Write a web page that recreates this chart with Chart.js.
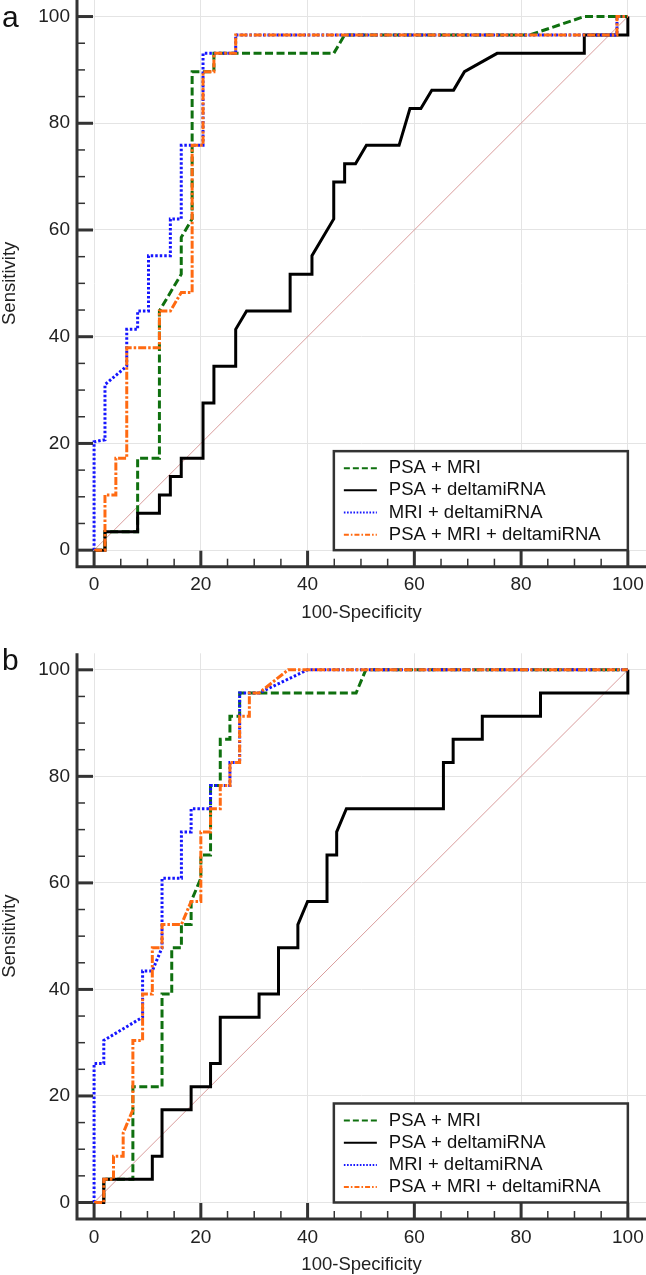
<!DOCTYPE html>
<html>
<head>
<meta charset="utf-8">
<script src="https://cdn.jsdelivr.net/npm/chart.js@4.4.1/dist/chart.umd.min.js"></script>
<style>
  html, body { margin: 0; background: #fff; overflow: hidden; }
  .panel { position: relative; width: 646px; }
</style>
</head>
<body>
<div class="panel" style="height:637px"><canvas id="chartA"></canvas></div>
<div class="panel" style="height:638px"><canvas id="chartB"></canvas></div>
<script>
const FONT = "'Liberation Sans', Arial, Helvetica, sans-serif";

const seriesNames = ['PSA + MRI', 'PSA + deltamiRNA', 'MRI + deltamiRNA', 'PSA + MRI + deltamiRNA'];
const tickVals = [0, 20, 40, 60, 80, 100];
const refLine = [[0, 0], [100, 100]];

// panel a  [100-specificity, sensitivity]
const aPsaMri = [[0,0],[2.04,0],[2.04,3.45],[8.16,3.45],[8.16,17.24],[12.24,17.24],[12.24,44.83],[16.33,51.72],[16.33,58.62],[18.37,62.07],[18.37,89.66],[22.45,89.66],[22.45,93.1],[44.9,93.1],[46.94,96.55],[81.63,96.55],[91.84,100],[100,100]];
const aPsaMirna = [[0,0],[2.04,0],[2.04,3.45],[8.16,3.45],[8.16,6.9],[12.24,6.9],[12.24,10.34],[14.29,10.34],[14.29,13.79],[16.33,13.79],[16.33,17.24],[20.41,17.24],[20.41,27.59],[22.45,27.59],[22.45,34.48],[26.53,34.48],[26.53,41.38],[28.57,44.83],[36.73,44.83],[36.73,51.72],[40.82,51.72],[40.82,55.17],[44.9,62.07],[44.9,68.97],[46.94,68.97],[46.94,72.41],[48.98,72.41],[51.02,75.86],[57.14,75.86],[59.18,82.76],[61.22,82.76],[63.27,86.21],[67.35,86.21],[69.39,89.66],[75.51,93.1],[91.84,93.1],[91.84,96.55],[100,96.55],[100,100]];
const aMriMirna = [[0,0],[0,20.3],[2.04,20.69],[2.04,31.03],[6.12,34.48],[6.12,41.38],[8.16,41.38],[8.16,44.83],[10.2,44.83],[10.2,55.17],[14.29,55.17],[14.29,62.07],[16.33,62.07],[16.33,75.86],[20.41,75.86],[20.41,93.1],[26.53,93.1],[26.53,96.55],[97.96,96.55],[97.96,100],[100,100]];
const aAll = [[0,0],[2.04,0],[2.04,10.34],[4.08,10.34],[4.08,17.24],[6.12,17.24],[6.12,37.93],[12.24,37.93],[12.24,44.83],[14.29,44.83],[16.33,48.28],[18.37,48.28],[18.37,75.86],[20.41,75.86],[20.41,89.66],[22.45,89.66],[22.45,93.1],[26.53,93.1],[26.53,96.55],[97.96,96.55],[97.96,100],[100,100]];

// panel b
const bPsaMri = [[0,0],[1.82,0],[1.82,4.35],[7.27,4.35],[7.27,21.74],[12.73,21.74],[12.73,39.13],[14.55,39.13],[14.55,47.83],[16.36,47.83],[16.36,52.17],[18.18,52.17],[18.18,56.52],[20,60.87],[20,65.22],[21.82,65.22],[21.82,78.26],[23.64,78.26],[23.64,86.96],[25.45,86.96],[25.45,91.3],[27.27,91.3],[27.27,95.65],[49.09,95.65],[50.91,100],[100,100]];
const bPsaMirna = [[0,0],[1.82,0],[1.82,4.35],[10.91,4.35],[10.91,8.7],[12.73,8.7],[12.73,17.39],[18.18,17.39],[18.18,21.74],[21.82,21.74],[21.82,26.09],[23.64,26.09],[23.64,34.78],[30.91,34.78],[30.91,39.13],[34.55,39.13],[34.55,47.83],[38.18,47.83],[38.18,52.17],[40,56.52],[43.64,56.52],[43.64,65.22],[45.45,65.22],[45.45,69.57],[47.27,73.91],[65.45,73.91],[65.45,82.61],[67.27,82.61],[67.27,86.96],[72.73,86.96],[72.73,91.3],[83.64,91.3],[83.64,95.65],[100,95.65],[100,100]];
const bMriMirna = [[0,0],[0,26.09],[1.82,26.09],[1.82,30.43],[9.09,34.78],[9.09,43.48],[10.91,43.48],[12.73,47.83],[12.73,60.87],[16.36,60.87],[16.36,69.57],[18.18,69.57],[18.18,73.91],[21.82,73.91],[21.82,78.26],[25.45,78.26],[25.45,82.61],[27.27,82.61],[27.27,95.65],[30.91,95.65],[40,100],[100,100]];
const bAll = [[0,0],[1.82,0],[1.82,4.35],[3.64,4.35],[3.64,8.7],[5.45,8.7],[5.45,13.04],[7.27,17.39],[7.27,30.43],[9.09,30.43],[9.09,39.13],[10.91,39.13],[10.91,47.83],[12.73,47.83],[12.73,52.17],[16.36,52.17],[18.18,56.52],[20,56.52],[20,69.57],[21.82,69.57],[21.82,73.91],[23.64,73.91],[23.64,78.26],[25.45,78.26],[25.45,82.61],[27.27,82.61],[27.27,91.3],[29.09,91.3],[29.09,95.65],[30.91,95.65],[36.36,100],[100,100]];

const colors = ['#0f700f', '#000000', '#1515ff', '#ff6a12'];
const dashes = [[8, 3.5], [], [2.5, 2], [8, 2, 2.5, 2]];
const legendDashes = [[6, 3], [], [1.6, 1.6], [5, 2, 1.6, 2]];
const drawOrder = [4, 3, 2, 1];

const decor = {
  id: 'decor',
  afterDraw(chart, args, opts) {
    const {ctx, chartArea: ca, scales: {x, y}} = chart;
    ctx.save();
    ctx.strokeStyle = '#333';
    ctx.lineWidth = 3;
    ctx.beginPath();
    ctx.moveTo(ca.left, ca.top);
    ctx.lineTo(ca.left, ca.bottom);
    ctx.lineTo(ca.right, ca.bottom);
    ctx.stroke();

    for (let v = 0; v <= 100; v += 5) {
      const major = tickVals.includes(v);
      ctx.lineWidth = major ? 3 : 1.5;
      const len = major ? 16 : 8;
      const py = y.getPixelForValue(v);
      ctx.beginPath(); ctx.moveTo(ca.left, py); ctx.lineTo(ca.left + len, py); ctx.stroke();
      const px = x.getPixelForValue(v);
      ctx.beginPath(); ctx.moveTo(px, ca.bottom); ctx.lineTo(px, ca.bottom - len); ctx.stroke();
    }

    // legend box, anchored to the (100, 0) corner
    const right = x.getPixelForValue(100), bottom = y.getPixelForValue(0);
    const w = 294, h = 99, left = right - w, top = bottom - h;
    ctx.fillStyle = '#fff';
    ctx.fillRect(left, top, w, h);
    ctx.lineWidth = 2.5;
    ctx.strokeStyle = '#333';
    ctx.strokeRect(left, top, w, h);
    ctx.font = '18.5px ' + FONT;
    ctx.textBaseline = 'middle';
    ctx.textAlign = 'left';
    seriesNames.forEach((name, i) => {
      const ry = top + 17 + i * 22.2;
      ctx.strokeStyle = colors[i];
      ctx.lineWidth = 2;
      ctx.setLineDash(legendDashes[i]);
      ctx.beginPath(); ctx.moveTo(left + 10, ry); ctx.lineTo(left + 43, ry); ctx.stroke();
      ctx.setLineDash([]);
      ctx.fillStyle = '#111';
      ctx.fillText(name, left + 55, ry);
    });

    ctx.font = '30px ' + FONT;
    ctx.textBaseline = 'alphabetic';
    ctx.fillStyle = '#111';
    ctx.fillText(opts.letter, 2, opts.letterY);
    ctx.restore();
  }
};

function makeChart(id, letter, letterY, series, pad) {
  const datasets = series.map((pts, i) => ({
    label: seriesNames[i],
    data: pts.map(p => ({x: p[0], y: p[1]})),
    showLine: true,
    borderColor: colors[i],
    borderWidth: 3,
    borderDash: dashes[i],
    pointRadius: 0,
    pointHoverRadius: 0,
    fill: false,
    order: drawOrder[i]
  }));
  datasets.push({
    label: 'reference',
    data: refLine.map(p => ({x: p[0], y: p[1]})),
    showLine: true,
    borderColor: '#d99c9c',
    borderWidth: 1,
    pointRadius: 0,
    order: 10
  });

  new Chart(document.getElementById(id), {
    type: 'scatter',
    data: { datasets },
    options: {
      responsive: true,
      maintainAspectRatio: false,
      animation: false,
      events: [],
      layout: { padding: pad },
      plugins: {
        legend: { display: false },
        tooltip: { enabled: false },
        decor: { letter, letterY }
      },
      scales: {
        x: {
          type: 'linear',
          min: -3.2,
          max: 103.4,
          afterBuildTicks: s => { s.ticks = tickVals.map(v => ({value: v})); },
          afterFit: s => { s.height = 56; s.paddingLeft = 0; s.paddingRight = 0; },
          grid: { color: '#e4e4e4', lineWidth: 1, drawTicks: false },
          border: { display: false },
          ticks: { font: {family: FONT, size: 19}, color: '#222', padding: 7, maxRotation: 0, autoSkip: false },
          title: { display: true, text: '100-Specificity', color: '#222',
                   font: {family: FONT, size: 18.5, lineHeight: 1.1}, padding: {top: 0, bottom: 0} }
        },
        y: {
          type: 'linear',
          min: -3.1,
          max: 103.1,
          afterBuildTicks: s => { s.ticks = tickVals.map(v => ({value: v})); },
          afterFit: s => { s.width = 77; s.paddingTop = 0; s.paddingBottom = 0; },
          grid: { color: '#e4e4e4', lineWidth: 1, drawTicks: false },
          border: { display: false },
          ticks: { font: {family: FONT, size: 19}, color: '#222', padding: 7, autoSkip: false },
          title: { display: true, text: 'Sensitivity', color: '#222',
                   font: {family: FONT, size: 18.5, lineHeight: 1.1}, padding: {top: 0, bottom: 0} }
        }
      }
    },
    plugins: [decor]
  });
}

makeChart('chartA', 'a', 27, [aPsaMri, aPsaMirna, aMriMirna, aAll], {top: 0, bottom: 14.3, left: 0, right: 0});
makeChart('chartB', 'b', 33, [bPsaMri, bPsaMirna, bMriMirna, bAll], {top: 16.3, bottom: 0, left: 0, right: 0});
</script>
</body>
</html>
